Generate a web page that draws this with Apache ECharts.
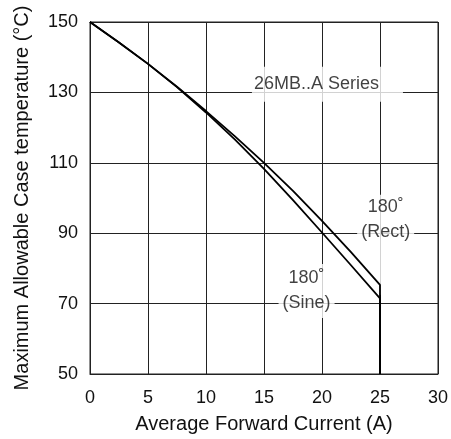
<!DOCTYPE html>
<html>
<head>
<meta charset="utf-8">
<script src="https://cdn.jsdelivr.net/npm/echarts@6/dist/echarts.min.js"></script>
<style>
html,body{margin:0;padding:0;background:#fff;}
#chart{width:451px;height:439px;}
</style>
</head>
<body>
<div id="chart"></div>
<script>
// Data
var rectCurrent = [0, 2.5, 5, 7.5, 10, 12.5, 15, 17.5, 20, 22.5, 25, 25];
var rectTemp    = [150, 144.2, 138.1, 131.6, 124.7, 117.5, 110.0, 102.0, 93.5, 84.6, 75.3, 50];
var sineCurrent = [0, 2.5, 5, 7.5, 10, 12.5, 15, 17.5, 20, 22.5, 25, 25];
var sineTemp    = [150, 144.2, 138.1, 131.5, 124.3, 116.6, 108.3, 99.4, 90.2, 80.9, 71.5, 50];

var xTicks = [0, 5, 10, 15, 20, 25, 30];
var yTicks = [50, 70, 90, 110, 130, 150];

// annotation anchors (data coordinates) and texts
var annotations = [
  { text: '26MB..A Series', x: 20.47, y: 132.3 },
  { text: '180˚\n(Rect)\n\n', x: 25.49, y: 86.7 },
  { text: '180˚\n(Sine)', x: 18.67, y: 73.6 }
];

function pairs(xs, ys) { return xs.map(function (x, i) { return [x, ys[i]]; }); }

var FONT = '"Liberation Sans", Arial, sans-serif';
var chart = echarts.init(document.getElementById('chart'), null, { renderer: 'canvas' });

var option = {
  backgroundColor: '#ffffff',
  animation: false,
  grid: { left: 90, top: 22, right: 11.5, bottom: 65, show: true, borderColor: '#222', borderWidth: 1, backgroundColor: 'transparent' },
  xAxis: {
    type: 'value', min: xTicks[0], max: xTicks[xTicks.length - 1], interval: 5,
    axisLine: { show: true, lineStyle: { color: '#222', width: 1 } },
    axisTick: { show: false },
    axisLabel: { color: '#111', fontSize: 18, fontFamily: FONT, margin: 15 },
    splitLine: { show: true, lineStyle: { color: '#222', width: 1 } },
    name: 'Average Forward Current (A)', nameLocation: 'middle', nameGap: 40,
    nameTextStyle: { color: '#111', fontSize: 20, fontFamily: FONT }
  },
  yAxis: {
    type: 'value', min: yTicks[0], max: yTicks[yTicks.length - 1], interval: 20,
    axisLine: { show: true, lineStyle: { color: '#222', width: 1 } },
    axisTick: { show: false },
    axisLabel: { color: '#111', fontSize: 18, fontFamily: FONT, margin: 12 },
    splitLine: { show: true, lineStyle: { color: '#222', width: 1 } },
    name: 'Maximum Allowable Case temperature (°C)', nameLocation: 'middle', nameGap: 58, nameRotate: 90,
    nameTextStyle: { color: '#111', fontSize: 20, fontFamily: FONT }
  },
  series: [
    {
      type: 'scatter', z: 3, symbolSize: 0, silent: true,
      data: annotations.map(function (a) { return { value: [a.x, a.y], name: a.text }; }),
      label: {
        show: true, position: 'inside', color: '#111', fontSize: 18, fontFamily: FONT,
        lineHeight: 25, backgroundColor: '#fff',
        formatter: function (p) { return p.name; }
      }
    },
    {
      type: 'line', z: 5, name: '180 Rect', data: pairs(rectCurrent, rectTemp),
      smooth: false, showSymbol: false, lineStyle: { color: '#000', width: 1.8 }
    },
    {
      type: 'line', z: 5, name: '180 Sine', data: pairs(sineCurrent, sineTemp),
      smooth: false, showSymbol: false, lineStyle: { color: '#000', width: 1.8 }
    }
  ]
};
// per-annotation padding for the white label boxes
option.series[0].data[0].label = { padding: [5, 24, 5, 2] };
option.series[0].data[1].label = { padding: [0, 4, 0, 4] };
option.series[0].data[2].label = { padding: [2, 4, 2, 4] };
chart.setOption(option);
</script>
</body>
</html>
